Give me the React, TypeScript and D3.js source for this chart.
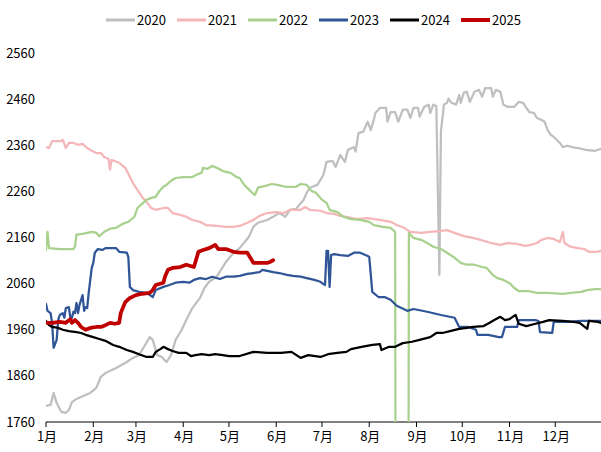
import React from 'react'
import * as d3 from 'd3'

// series values, [month-day, price]
const s2020: [string, number][] = [
    ['01-01', 1795], ['01-04', 1797], ['01-06', 1823], ['01-08', 1801], ['01-11', 1782], ['01-14', 1780], ['01-16', 1786],
    ['01-18', 1803], ['01-21', 1810], ['01-25', 1816], ['01-30', 1823], ['02-03', 1834], ['02-06', 1858], ['02-09', 1866],
    ['02-16', 1877], ['02-23', 1890], ['02-26', 1897], ['03-03', 1905], ['03-07', 1927], ['03-10', 1944], ['03-12', 1938],
    ['03-15', 1905], ['03-18', 1901], ['03-21', 1890], ['03-24', 1905], ['03-27', 1938], ['03-31', 1960], ['04-03', 1981],
    ['04-07', 2007], ['04-12', 2029], ['04-15', 2051], ['04-18', 2064], ['04-23', 2075], ['04-29', 2107], ['05-04', 2127],
    ['05-08', 2137], ['05-14', 2161], ['05-17', 2183], ['05-20', 2192], ['05-26', 2198], ['05-30', 2205], ['06-03', 2213],
    ['06-07', 2205], ['06-10', 2220], ['06-14', 2222], ['06-19', 2242], ['06-21', 2257], ['06-23', 2268], ['06-28', 2274],
    ['07-02', 2296], ['07-04', 2324], ['07-08', 2326], ['07-10', 2313], ['07-13', 2339], ['07-16', 2324], ['07-18', 2350],
    ['07-22', 2356], ['07-23', 2346], ['07-25', 2387], ['07-28', 2389], ['07-31', 2411], ['08-02', 2393], ['08-04', 2415],
    ['08-05', 2430], ['08-08', 2441], ['08-12', 2441], ['08-13', 2411], ['08-15', 2432], ['08-18', 2432], ['08-20', 2411],
    ['08-23', 2437], ['08-26', 2437], ['08-28', 2419], ['08-30', 2441], ['09-02', 2441], ['09-03', 2422], ['09-06', 2443],
    ['09-09', 2448], ['09-10', 2430], ['09-12', 2448], ['09-14', 2445], ['09-16', 2079], ['09-17', 2389], ['09-19', 2448],
    ['09-21', 2452], ['09-22', 2461], ['09-24', 2452], ['09-27', 2448], ['09-29', 2469], ['09-30', 2452], ['10-02', 2474],
    ['10-04', 2476], ['10-06', 2454], ['10-09', 2476], ['10-12', 2480], ['10-14', 2465], ['10-16', 2484], ['10-20', 2484],
    ['10-21', 2465], ['10-23', 2480], ['10-26', 2476], ['10-28', 2448], ['10-31', 2443], ['11-04', 2443], ['11-07', 2454],
    ['11-10', 2452], ['11-12', 2441], ['11-14', 2432], ['11-17', 2430], ['11-19', 2419], ['11-22', 2415], ['11-24', 2411],
    ['11-26', 2393], ['11-28', 2383], ['11-30', 2378], ['12-04', 2365], ['12-06', 2356], ['12-09', 2359], ['12-12', 2356],
    ['12-16', 2354], ['12-21', 2350], ['12-27', 2348], ['12-31', 2352]
]

const s2021: [string, number][] = [
    ['01-01', 2356], ['01-03', 2354], ['01-05', 2369], ['01-11', 2369], ['01-12', 2372], ['01-14', 2354], ['01-16', 2365],
    ['01-19', 2365], ['01-22', 2361], ['01-25', 2363], ['01-28', 2354], ['01-31', 2348], ['02-03', 2343], ['02-06', 2343],
    ['02-08', 2335], ['02-11', 2330], ['02-12', 2307], ['02-13', 2328], ['02-15', 2326], ['02-18', 2322], ['02-22', 2311],
    ['02-25', 2291], ['02-27', 2278], ['03-02', 2263], ['03-05', 2248], ['03-08', 2237], ['03-11', 2224], ['03-14', 2220],
    ['03-19', 2224], ['03-22', 2224], ['03-25', 2213], ['03-30', 2209], ['04-03', 2205], ['04-07', 2198], ['04-12', 2194],
    ['04-16', 2187], ['04-23', 2185], ['04-29', 2183], ['05-04', 2183], ['05-08', 2185], ['05-13', 2192], ['05-17', 2198],
    ['05-21', 2207], ['05-26', 2213], ['06-01', 2215], ['06-06', 2213], ['06-10', 2220], ['06-17', 2220], ['06-20', 2226],
    ['06-23', 2220], ['06-30', 2218], ['07-04', 2213], ['07-09', 2211], ['07-13', 2207], ['07-17', 2205], ['07-24', 2200],
    ['07-31', 2202], ['08-04', 2200], ['08-08', 2198], ['08-15', 2194], ['08-19', 2187], ['08-24', 2181], ['08-28', 2172],
    ['09-04', 2170], ['09-10', 2172], ['09-16', 2174], ['09-21', 2176], ['09-26', 2170], ['10-02', 2163], ['10-08', 2159],
    ['10-13', 2155], ['10-20', 2148], ['10-26', 2144], ['10-31', 2148], ['11-06', 2146], ['11-11', 2142], ['11-15', 2144],
    ['11-19', 2148], ['11-22', 2155], ['11-26', 2159], ['11-30', 2157], ['12-04', 2150], ['12-06', 2172], ['12-07', 2148],
    ['12-11', 2140], ['12-16', 2137], ['12-20', 2135], ['12-23', 2129], ['12-28', 2129], ['12-31', 2131]
]

const s2022: [string, number][] = [
    ['01-01', 2133], ['01-02', 2172], ['01-03', 2137], ['01-10', 2135], ['01-19', 2135], ['01-20', 2140], ['01-21', 2166],
    ['01-25', 2168], ['01-31', 2172], ['02-03', 2170], ['02-05', 2163], ['02-08', 2172], ['02-12', 2179], ['02-16', 2181],
    ['02-20', 2189], ['02-24', 2194], ['02-28', 2205], ['03-02', 2224], ['03-05', 2233], ['03-08', 2242], ['03-11', 2246],
    ['03-14', 2248], ['03-16', 2259], ['03-19', 2270], ['03-21', 2274], ['03-24', 2283], ['03-27', 2289], ['04-01', 2291],
    ['04-07', 2291], ['04-11', 2298], ['04-13', 2300], ['04-14', 2311], ['04-17', 2309], ['04-20', 2315], ['04-23', 2311],
    ['04-27', 2304], ['05-02', 2300], ['05-06', 2291], ['05-08', 2289], ['05-11', 2274], ['05-15', 2261], ['05-18', 2252],
    ['05-20', 2268], ['05-25', 2272], ['05-29', 2276], ['06-02', 2274], ['06-07', 2270], ['06-11', 2270], ['06-14', 2270],
    ['06-17', 2276], ['06-21', 2274], ['06-24', 2261], ['06-27', 2257], ['07-01', 2242], ['07-04', 2235], ['07-06', 2220],
    ['07-11', 2215], ['07-15', 2205], ['07-20', 2200], ['07-26', 2198], ['08-01', 2194], ['08-04', 2187], ['08-10', 2183],
    ['08-15', 2181], ['08-18', 2172], ['08-19', 0], ['08-26', 0], ['08-27', 2170], ['08-30', 2159], ['09-04', 2155],
    ['09-08', 2148], ['09-12', 2140], ['09-17', 2135], ['09-21', 2127], ['09-26', 2116], ['09-30', 2105], ['10-04', 2101],
    ['10-09', 2101], ['10-14', 2096], ['10-17', 2094], ['10-21', 2079], ['10-24', 2072], ['10-28', 2068], ['11-01', 2061],
    ['11-04', 2051], ['11-07', 2044], ['11-13', 2044], ['11-19', 2040], ['11-26', 2040], ['12-06', 2038], ['12-11', 2040],
    ['12-18', 2042], ['12-22', 2046], ['12-27', 2048], ['12-31', 2048]
]

const s2023: [string, number][] = [
    ['01-01', 2016], ['01-02', 2001], ['01-04', 1996], ['01-05', 1975], ['01-06', 1921], ['01-08', 1938], ['01-09', 1981],
    ['01-10', 1992], ['01-12', 1996], ['01-13', 1986], ['01-14', 2007], ['01-16', 2009], ['01-17', 1986], ['01-18', 1986],
    ['01-19', 1999], ['01-20', 1996], ['01-21', 2018], ['01-22', 1996], ['01-23', 2014], ['01-25', 2035], ['01-26', 2001],
    ['01-27', 2009], ['01-28', 2007], ['01-29', 2040], ['01-31', 2094], ['02-01', 2105], ['02-02', 2127], ['02-04', 2135],
    ['02-07', 2133], ['02-09', 2137], ['02-16', 2137], ['02-18', 2129], ['02-23', 2127], ['02-24', 2118], ['02-25', 2053],
    ['02-27', 2046], ['03-03', 2042], ['03-08', 2040], ['03-12', 2031], ['03-14', 2046], ['03-19', 2053], ['03-23', 2057],
    ['03-27', 2062], ['04-01', 2064], ['04-05', 2062], ['04-08', 2068], ['04-12', 2072], ['04-16', 2070], ['04-20', 2075],
    ['04-25', 2070], ['04-29', 2075], ['05-04', 2075], ['05-08', 2077], ['05-13', 2081], ['05-17', 2083], ['05-21', 2085],
    ['05-23', 2090], ['05-30', 2085], ['06-03', 2083], ['06-08', 2079], ['06-12', 2077], ['06-17', 2075], ['06-21', 2072],
    ['06-26', 2068], ['06-30', 2064], ['07-02', 2059], ['07-03', 2057], ['07-04', 2131], ['07-05', 2131], ['07-06', 2053],
    ['07-07', 2122], ['07-09', 2124], ['07-13', 2122], ['07-18', 2120], ['07-22', 2127], ['07-26', 2127], ['07-31', 2120],
    ['08-01', 2118], ['08-03', 2042], ['08-07', 2031], ['08-11', 2031], ['08-15', 2025], ['08-19', 2012], ['08-26', 2001],
    ['08-30', 2005], ['09-08', 1999], ['09-17', 1992], ['09-26', 1986], ['09-29', 1966], ['10-05', 1966], ['10-10', 1960],
    ['10-11', 1949], ['10-18', 1949], ['10-25', 1944], ['10-27', 1944], ['10-29', 1966], ['11-06', 1966], ['11-07', 1981],
    ['11-18', 1981], ['11-20', 1979], ['11-21', 1955], ['11-29', 1953], ['11-30', 1977], ['12-09', 1977], ['12-18', 1979],
    ['12-27', 1979], ['12-31', 1979]
]

const s2024: [string, number][] = [
    ['01-01', 1979], ['01-03', 1970], ['01-05', 1966], ['01-09', 1964], ['01-12', 1960], ['01-16', 1957], ['01-21', 1955],
    ['01-24', 1953], ['01-27', 1949], ['02-01', 1944], ['02-05', 1940], ['02-09', 1936], ['02-14', 1927], ['02-18', 1923],
    ['02-23', 1916], ['02-27', 1912], ['03-03', 1907], ['03-08', 1901], ['03-12', 1901], ['03-14', 1912], ['03-17', 1918],
    ['03-19', 1923], ['03-22', 1918], ['03-25', 1914], ['03-29', 1910], ['04-03', 1910], ['04-06', 1903], ['04-09', 1905],
    ['04-13', 1907], ['04-18', 1905], ['04-22', 1907], ['04-27', 1905], ['05-01', 1903], ['05-08', 1903], ['05-17', 1912],
    ['05-26', 1910], ['06-04', 1910], ['06-11', 1912], ['06-17', 1899], ['06-22', 1905], ['06-30', 1901], ['07-05', 1907],
    ['07-11', 1910], ['07-17', 1912], ['07-20', 1918], ['07-27', 1923], ['08-03', 1927], ['08-08', 1929], ['08-09', 1916],
    ['08-14', 1923], ['08-18', 1923], ['08-23', 1931], ['08-29', 1934], ['09-03', 1938], ['09-10', 1944], ['09-14', 1953],
    ['09-18', 1953], ['09-23', 1957], ['09-29', 1962], ['10-04', 1964], ['10-08', 1966], ['10-15', 1968], ['10-19', 1975],
    ['10-22', 1981], ['10-26', 1988], ['10-29', 1981], ['11-01', 1983], ['11-04', 1990], ['11-05', 1992], ['11-07', 1973],
    ['11-12', 1968], ['11-18', 1973], ['11-23', 1977], ['11-27', 1981], ['12-06', 1979], ['12-13', 1977], ['12-17', 1975],
    ['12-22', 1962], ['12-23', 1979], ['12-29', 1977], ['12-31', 1975]
]

const s2025: [string, number][] = [
    ['01-01', 1975], ['01-05', 1975], ['01-10', 1977], ['01-14', 1975], ['01-17', 1983], ['01-18', 1975], ['01-20', 1981],
    ['01-22', 1975], ['01-24', 1966], ['01-27', 1960], ['01-30', 1964], ['02-03', 1966], ['02-06', 1966], ['02-09', 1970],
    ['02-12', 1975], ['02-15', 1973], ['02-18', 1975], ['02-19', 1996], ['02-22', 2020], ['02-25', 2029], ['03-01', 2035],
    ['03-05', 2038], ['03-10', 2040], ['03-12', 2046], ['03-14', 2057], ['03-19', 2062], ['03-20', 2075], ['03-22', 2090],
    ['03-25', 2094], ['03-30', 2096], ['04-03', 2101], ['04-08', 2096], ['04-09', 2107], ['04-11', 2129], ['04-14', 2133],
    ['04-18', 2137], ['04-22', 2144], ['04-24', 2135], ['04-29', 2135], ['05-04', 2129], ['05-08', 2127], ['05-13', 2127],
    ['05-15', 2116], ['05-17', 2105], ['05-22', 2105], ['05-26', 2105], ['05-28', 2107], ['05-30', 2111]
]

const seriesNames = ['2020', '2021', '2022', '2023', '2024', '2025']
const seriesData = [s2020, s2021, s2022, s2023, s2024, s2025]
const colors = ['#BFBFBF', '#F4B6B8', '#A9D18E', '#2F5597', '#000000', '#C00000']
const widths = [2.25, 2.25, 2.25, 2.25, 2.25, 3.75]

const yTicks = [1760, 1860, 1960, 2060, 2160, 2260, 2360, 2460, 2560]
const monthLabels = ['1月', '2月', '3月', '4月', '5月', '6月', '7月', '8月', '9月', '10月', '11月', '12月']

const font = "'Liberation Sans Narrow', 'Noto Sans CJK SC', sans-serif"

const parse = (md: string) => {
    const [m, d] = md.split('-').map(Number)
    return new Date(2021, m - 1, d)
}

export default function App() {
    const width = 601, height = 452
    const margin = { top: 53, right: 0, bottom: 30, left: 46 }

    const x = d3.scaleTime()
        .domain([new Date(2021, 0, 1), new Date(2021, 11, 31)])
        .range([margin.left, width - margin.right])
    const y = d3.scaleLinear()
        .domain([1760, 2560])
        .range([height - margin.bottom, margin.top])

    const line = d3.line<[string, number]>()
        .x(d => x(parse(d[0])))
        .y(d => y(d[1]))

    const months = d3.timeMonth.range(new Date(2021, 0, 1), new Date(2021, 11, 31))
    const y0 = y(1760)

    // legend layout
    const legendX = [106, 177, 248, 319, 390, 461]

    return (
        <svg width={width} height={height} style={{ position: 'absolute', left: 0, top: 0, background: '#fff' }}>
            <defs>
                <clipPath id="plot">
                    <rect x={margin.left} y={margin.top - 10} width={width - margin.left} height={y0 - margin.top + 10} />
                </clipPath>
            </defs>

            {/* y labels */}
            {yTicks.map(t => (
                <text key={t} x={35} y={y(t)} dy="0.35em" textAnchor="end" fontSize={13} fontFamily={font} fill="#000">{t}</text>
            ))}

            {/* x axis */}
            <line x1={margin.left} x2={width} y1={y0} y2={y0} stroke="#000" strokeWidth={1} />
            {months.map((m, i) => (
                <g key={i}>
                    <line x1={x(m)} x2={x(m)} y1={y0} y2={y0 + 5} stroke="#000" strokeWidth={1} />
                    <text x={x(m) + 1} y={y0 + 19} textAnchor="middle" fontSize={13} fontFamily={font} fill="#000">{monthLabels[i]}</text>
                </g>
            ))}

            {/* lines */}
            <g clipPath="url(#plot)">
                {seriesData.map((s, i) => (
                    <path key={seriesNames[i]} d={line(s) || ''} fill="none" stroke={colors[i]}
                        strokeWidth={widths[i]} strokeLinejoin="round" strokeLinecap="round" />
                ))}
            </g>

            {/* legend */}
            {seriesNames.map((n, i) => (
                <g key={n}>
                    <line x1={legendX[i]} x2={legendX[i] + 29} y1={20} y2={20} stroke={colors[i]} strokeWidth={i === 5 ? 4 : 3} />
                    <text x={legendX[i] + 31} y={20} dy="0.35em" fontSize={13} fontFamily={font} fill="#000">{n}</text>
                </g>
            ))}
        </svg>
    )
}
